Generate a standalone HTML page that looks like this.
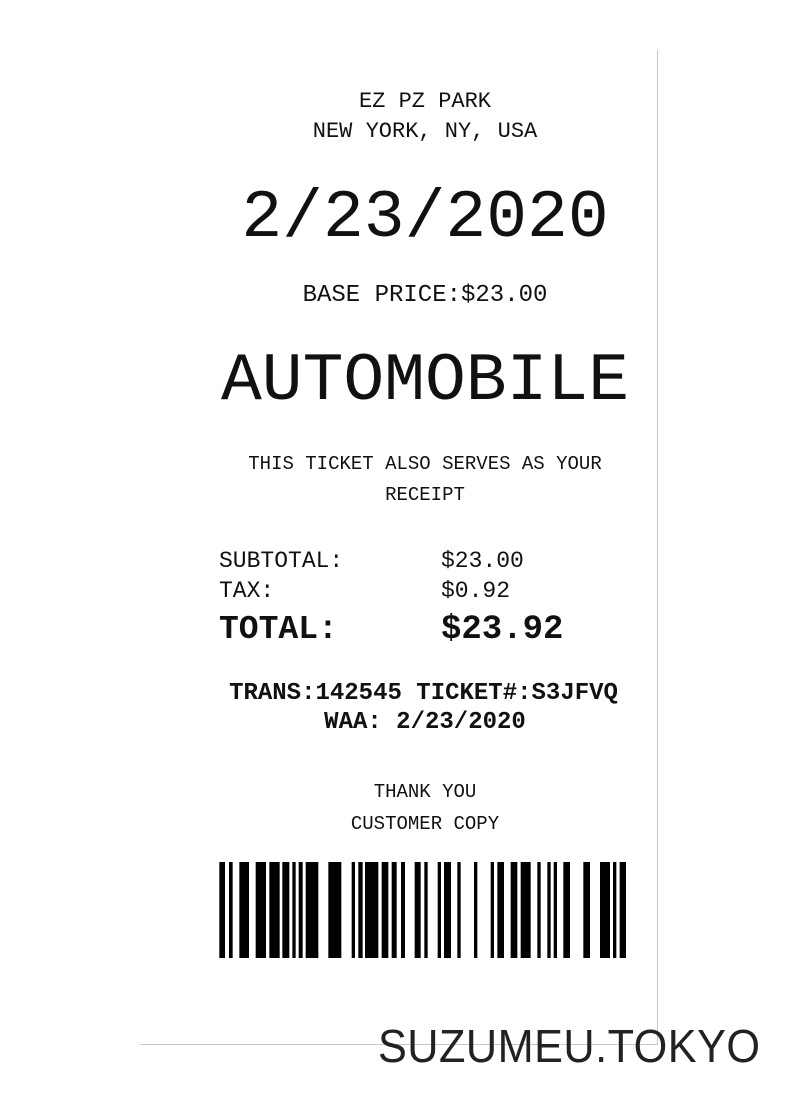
<!DOCTYPE html>
<html><head><meta charset="utf-8"><style>
body{margin:0;width:795px;height:1097px;background:#fff;position:relative;overflow:hidden;font-family:"Liberation Mono",monospace;color:#111}
.t{position:absolute;line-height:1;white-space:pre}
.c{left:0;width:850px;text-align:center}
.b{font-weight:bold}
</style></head><body>
<div style="position:absolute;left:657px;top:50px;width:1px;height:995px;background:#c8c8c8"></div>
<div style="position:absolute;left:140px;top:1044px;width:518px;height:1px;background:#c8c8c8"></div>
<div class="t c" style="top:91px;font-size:22px">EZ PZ PARK</div>
<div class="t c" style="top:121px;font-size:22px">NEW YORK, NY, USA</div>
<div class="t c" style="top:185px;font-size:68px">2/23/2020</div>
<div class="t c" style="top:284px;font-size:24px">BASE PRICE:$23.00</div>
<div class="t c" style="top:348px;font-size:68px">AUTOMOBILE</div>
<div class="t c" style="top:455px;font-size:19px">THIS TICKET ALSO SERVES AS YOUR</div>
<div class="t c" style="top:486px;font-size:19px">RECEIPT</div>
<div class="t" style="left:219px;top:550px;font-size:23px">SUBTOTAL:</div>
<div class="t" style="left:441px;top:550px;font-size:23px">$23.00</div>
<div class="t" style="left:219px;top:580px;font-size:23px">TAX:</div>
<div class="t" style="left:441px;top:580px;font-size:23px">$0.92</div>
<div class="t b" style="left:219px;top:613px;font-size:33px">TOTAL:</div>
<div class="t b" style="left:441px;top:613px;font-size:34px">$23.92</div>
<div class="t c b" style="left:0;width:847px;top:682px;font-size:24px">TRANS:142545 TICKET#:S3JFVQ</div>
<div class="t c b" style="top:711px;font-size:24px">WAA: 2/23/2020</div>
<div class="t c" style="top:783px;font-size:19px">THANK YOU</div>
<div class="t c" style="top:815px;font-size:19px">CUSTOMER COPY</div>
<svg id="bc" style="position:absolute;left:0;top:0" width="795" height="1097"></svg>
<div class="t" style="left:378px;top:1023px;font-family:'Liberation Sans',sans-serif;font-size:46px;letter-spacing:0.5px;color:#222;transform:scaleX(0.94);transform-origin:left">SUZUMEU.TOKYO</div>
<script>
const barStarts=[28,57,88,137,178,217,247,266,287,355,425,445,465,515,545,573,614,643,683,702,742,792,842,862,902,932,982,1012,1031,1060,1120,1170,1209,1229];
const barEnds=[45,68,117,168,209,238,257,278,325,394,435,458,505,535,560,585,632,653,693,723,752,802,852,882,922,962,992,1022,1041,1080,1140,1200,1219,1248];
const svg=document.getElementById('bc');
for(let i=0;i<barStarts.length;i++){
 const r=document.createElementNS('http://www.w3.org/2000/svg','rect');
 r.setAttribute('x',210+barStarts[i]/3);
 r.setAttribute('y',862);
 r.setAttribute('width',(barEnds[i]-barStarts[i])/3);
 r.setAttribute('height',96);
 r.setAttribute('fill','#000');
 
 
 svg.appendChild(r);
}
</script>
</body></html>
